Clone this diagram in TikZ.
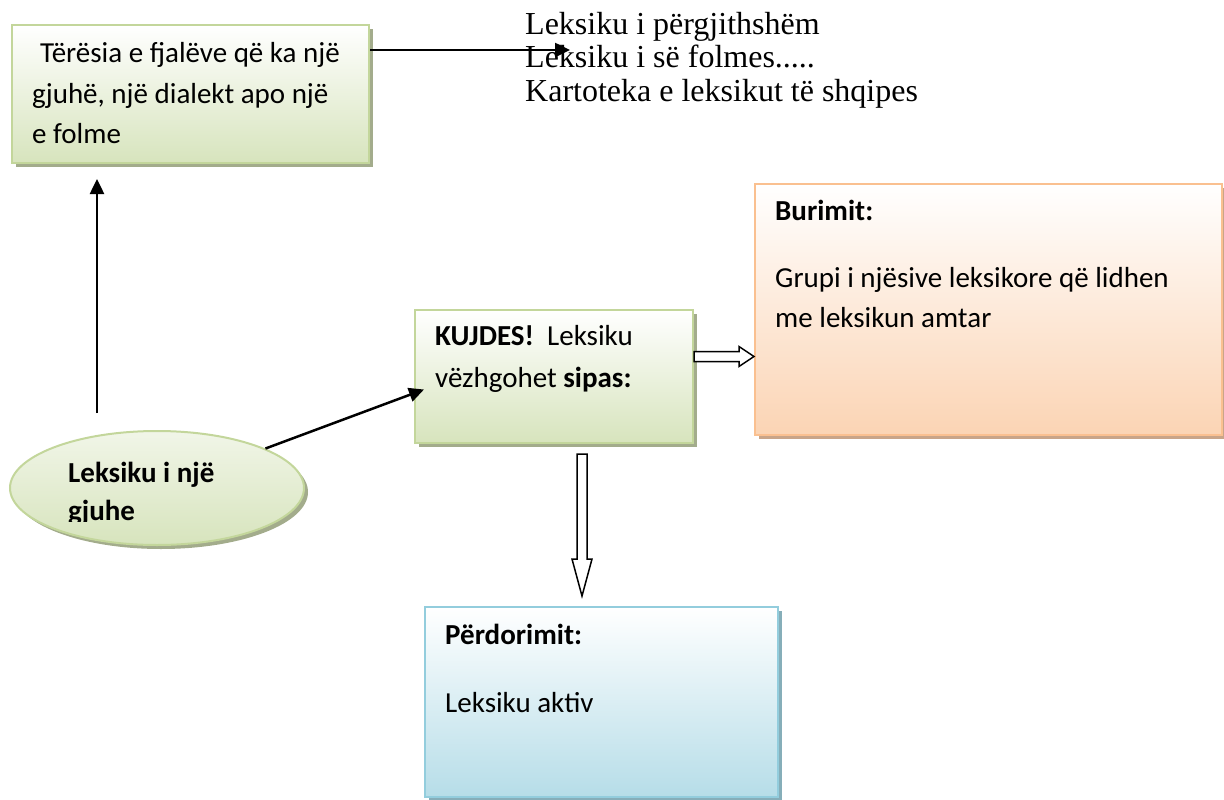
\documentclass[tikz,border=0pt]{standalone}
\usepackage{fontspec}
\setmainfont{Carlito}
\newfontfamily\serifA{Liberation Serif}
\usetikzlibrary{arrows.meta,calc,shapes.geometric,shadows}
\definecolor{gBorder}{HTML}{C3D69B}
\definecolor{gFill}{HTML}{D7E4BD}
\definecolor{gShadow}{HTML}{A3AC8C}
\definecolor{oBorder}{HTML}{FAC090}
\definecolor{oFill}{HTML}{FBD4B4}
\definecolor{oShadow}{HTML}{C9A589}
\definecolor{bBorder}{HTML}{93CDDD}
\definecolor{bFill}{HTML}{B6DDE8}
\definecolor{bShadow}{HTML}{86AEB9}
\begin{document}
\begin{tikzpicture}[x=1pt,y=-1pt,
  box/.style={rectangle, line width=2pt, inner sep=0pt, anchor=north west},
  gbox/.style={box, draw=gBorder, top color=white, bottom color=gFill,
    drop shadow={shadow xshift=4pt, shadow yshift=-4pt, fill=gShadow, opacity=1}},
  obox/.style={box, draw=oBorder, top color=white, bottom color=oFill,
    drop shadow={shadow xshift=4pt, shadow yshift=-4pt, fill=oShadow, opacity=1}},
  bbox/.style={box, draw=bBorder, top color=white, bottom color=bFill,
    drop shadow={shadow xshift=4pt, shadow yshift=-4pt, fill=bShadow, opacity=1}},
  txt/.style={anchor=base west, inner sep=0pt, font=\fontsize{29}{34}\selectfont},
  stxt/.style={anchor=base west, inner sep=0pt, font=\serifA\fontsize{32}{34}\selectfont},
  conn/.style={line width=2.5pt, -{Triangle[length=15pt,width=14pt]}},
  hollow/.style={draw=black, line width=1.5pt, fill=white, line join=miter}
]
\useasboundingbox (0,0) rectangle (1224,800);

% boxes
\node[gbox, minimum width=357pt, minimum height=138pt] (b1) at (11,24) {};
\node[gbox, minimum width=278pt, minimum height=133pt] (k) at (414,309) {};
\node[obox, minimum width=467pt, minimum height=251pt] (o) at (754,183) {};
\node[bbox, minimum width=353pt, minimum height=190pt] (u) at (424,606) {};
\node[ellipse, draw=gBorder, line width=2pt, top color=gFill!35, bottom color=gFill,
  minimum width=294pt, minimum height=114pt, inner sep=0pt,
  drop shadow={shadow xshift=4pt, shadow yshift=-4pt, fill=gShadow, opacity=1}] (e) at (157,488) {};

% texts
\node[txt] (t1a) at (40,63) {Tërësia e fjalëve që ka një};
\node[txt] (t1b) at (32,103) {gjuhë, një dialekt apo një};
\node[txt] (t1c) at (32,143) {e folme};

\node[stxt] (s1) at (525,35) {Leksiku i përgjithshëm};
\node[stxt] (s2) at (525,68) {Leksiku i së folmes.....};
\node[stxt] (s3) at (525,102) {Kartoteka e leksikut të shqipes};

\node[txt] (ka) at (435,345) {\textbf{KUJDES!}\ \ Leksiku};
\node[txt] (kb) at (435,387) {vëzhgohet \textbf{sipas:}};

\node[txt] (oa) at (775,220) {\textbf{Burimit:}};
\node[txt] (ob) at (775,287) {Grupi i njësive leksikore që lidhen};
\node[txt] (oc) at (775,327) {me leksikun amtar};

\node[txt] (ua) at (445,644) {\textbf{Përdorimit:}};
\node[txt] (ub) at (445,712) {Leksiku aktiv};

\begin{scope}
  \clip (0,430) rectangle (320,521);
  \node[txt] (ea) at (68,482) {\textbf{Leksiku i një}};
  \node[txt] (eb) at (68,520) {\textbf{gjuhe}};
\end{scope}

% connectors
\coordinate (ta) at (570,50);
\draw[conn] (b1.east |- ta) -- (ta);

\coordinate (va) at (97,413);
\draw[conn] (va) -- ($(b1.south -| va)+(0,15)$);

\draw[conn] (e.20) -- ([xshift=10pt,yshift=-13pt]k.west);

% hollow block arrows
\coordinate (ra0) at ($(k.east)+(0,-20)$);
\coordinate (ra1) at (o.west |- ra0);
\draw[hollow] ($(ra0)+(0,-5)$) -- ($(ra1)+(-15,-5)$) -- ($(ra1)+(-15,-10)$) -- (ra1)
  -- ($(ra1)+(-15,10)$) -- ($(ra1)+(-15,5)$) -- ($(ra0)+(0,5)$) -- cycle;

\coordinate (da0) at ($(k.south)+(28,10)$);
\coordinate (da1) at ($(da0 |- u.north)+(0,-10)$);
\draw[hollow] ($(da0)+(-5,0)$) -- ($(da1)+(-5,-37)$) -- ($(da1)+(-10,-37)$) -- (da1)
  -- ($(da1)+(10,-37)$) -- ($(da1)+(5,-37)$) -- ($(da0)+(5,0)$) -- cycle;
\end{tikzpicture}
\end{document}
